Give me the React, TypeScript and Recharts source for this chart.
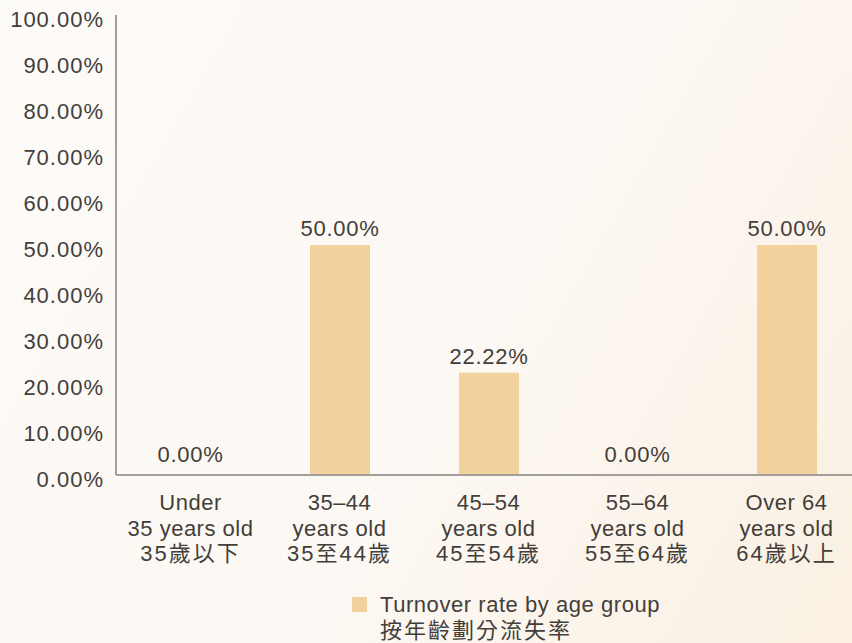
import { Bar, BarChart, LabelList, XAxis, YAxis } from "recharts";

const ageGroups = ["Under", "35–44", "45–54", "55–64", "Over 64"];
const ageGroupsLine2 = ["35 years old", "years old", "years old", "years old", "years old"];
const ageGroupsZh = ["35歲以下", "35至44歲", "45至54歲", "55至64歲", "64歲以上"];
const turnoverRates = [0, 50, 22.22, 0, 50];
const yTicks = [0, 10, 20, 30, 40, 50, 60, 70, 80, 90, 100];

const legendEn = "Turnover rate by age group";
const legendZh = "按年齡劃分流失率";

const FONT = '"Liberation Sans", Arial, "Noto Sans CJK TC", sans-serif';
const INK = "#433e3a";
const BAR = "#f2d19c";
const AXIS = "#a3a09c";

const data = ageGroups.map((g, i) => ({
  name: g,
  line2: ageGroupsLine2[i],
  zh: ageGroupsZh[i],
  rate: turnoverRates[i],
}));

const pct = (v: number) => `${v.toFixed(2)}%`;

function YTick({ x, y, payload }: any) {
  return (
    <text x={x + 1} y={y + 12} textAnchor="end" fill={INK} fontSize={22} fontFamily={FONT} letterSpacing={1}>
      {pct(payload.value)}
    </text>
  );
}

// x tick: three-line category name; zero-height bars get no label from the
// bar series, so their "0.00%" is hung just above the axis here
function XTick({ x, y, index }: any) {
  const d = data[index];
  const lines = [d.name, d.line2, d.zh];
  return (
    <g>
      {d.rate === 0 && (
        <text x={x} y={y - 21} textAnchor="middle" fill={INK} fontSize={22} fontFamily={FONT} letterSpacing={0.7}>
          {pct(d.rate)}
        </text>
      )}
      <text x={x} y={y + 27} textAnchor="middle" fill={INK} fontSize={22} fontFamily={FONT}>
        {lines.map((l, i) => (
          <tspan key={i} x={x} dy={i === 0 ? 0 : 25.5} letterSpacing={i === 2 ? 2 : 0.5}>
            {l}
          </tspan>
        ))}
      </text>
    </g>
  );
}

function RateLabel({ x, y, width, value }: any) {
  if (!value) return null;
  return (
    <text x={x + width / 2} y={y - 9} textAnchor="middle" fill={INK} fontSize={22} fontFamily={FONT} letterSpacing={0.7}>
      {pct(value)}
    </text>
  );
}

export default function App() {
  return (
    <div
      style={{
        position: "fixed",
        left: 0,
        top: 0,
        width: 852,
        height: 643,
        overflow: "hidden",
        background: "linear-gradient(120deg, #fdfbf8 0%, #fcf8f3 55%, #faf0e3 100%)",
        fontFamily: FONT,
      }}
    >
      <BarChart
        width={870}
        height={643}
        data={data}
        margin={{ top: 15, right: 9, left: 0, bottom: 0 }}
      >
        <XAxis
          dataKey="name"
          interval={0}
          height={168}
          tickLine={false}
          axisLine={{ stroke: AXIS, strokeWidth: 2 }}
          tick={<XTick />}
        />
        <YAxis
          domain={[0, 100]}
          ticks={yTicks}
          width={116}
          tickLine={false}
          tickMargin={7}
          axisLine={{ stroke: AXIS, strokeWidth: 2 }}
          tick={<YTick />}
        />
        <Bar dataKey="rate" fill={BAR} barSize={60} isAnimationActive={false}>
          <LabelList dataKey="rate" content={<RateLabel />} />
        </Bar>
      </BarChart>
      <div style={{ position: "absolute", left: 352, top: 592, color: INK, fontSize: 22, lineHeight: "26px" }}>
        <div style={{ position: "absolute", left: 0, top: 5, width: 15, height: 15, background: BAR }} />
        <div style={{ marginLeft: 28, whiteSpace: "nowrap" }}>
          <div style={{ letterSpacing: 0.55 }}>{legendEn}</div>
          <div style={{ letterSpacing: 2 }}>{legendZh}</div>
        </div>
      </div>
    </div>
  );
}
